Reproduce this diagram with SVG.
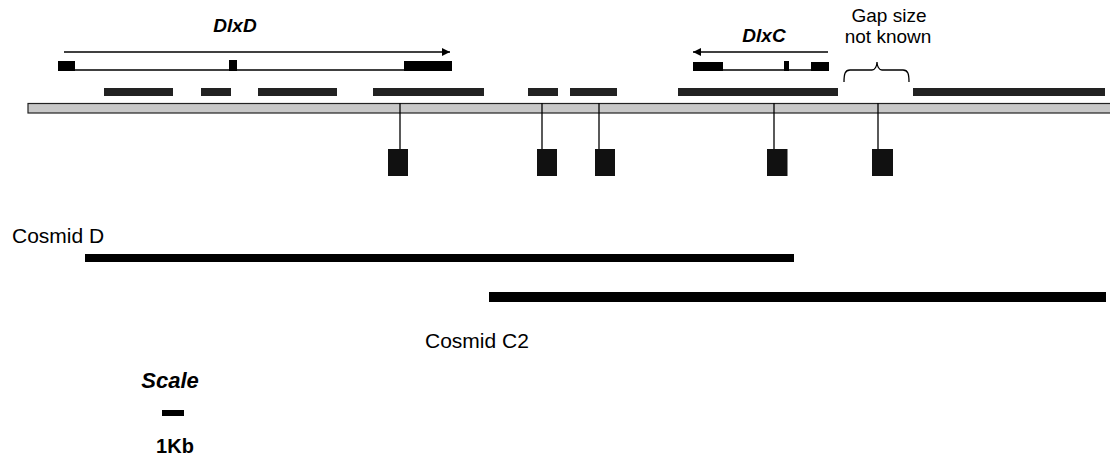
<svg xmlns="http://www.w3.org/2000/svg" width="1110" height="463" viewBox="0 0 1110 463">
  <style>
    .lbl { font-family: "Liberation Sans", Arial, sans-serif; fill: #000; }
    .gene { font-weight: bold; font-style: italic; font-size: 19px; }
    .note { font-size: 19px; }
    .cos { font-size: 21px; }
    .thin { stroke: #000; stroke-width: 1.3; fill: none; }
    .exon { fill: #000; }
    .contig { fill: #222; }
    .probe { fill: #111; }
    .clone { fill: #000; }
  </style>
  <defs>
    <marker id="arrow" viewBox="0 0 10 10" refX="10" refY="5" markerWidth="10" markerHeight="8" markerUnits="userSpaceOnUse" orient="auto-start-reverse">
      <path d="M0,0 L10,5 L0,10 z" fill="#000"/>
    </marker>
  </defs>
  <rect width="1110" height="463" fill="#fff"/>

  <!-- DlxD gene model -->
  <g id="dlxD">
    <text class="lbl gene" x="235" y="32" text-anchor="middle">DlxD</text>
    <line class="thin" x1="64" y1="52" x2="450" y2="52" marker-end="url(#arrow)"/>
    <line class="thin" x1="75" y1="70" x2="404" y2="70"/>
    <rect class="exon" x="58" y="61" width="17" height="10"/>
    <rect class="exon" x="229" y="60" width="8" height="11"/>
    <rect class="exon" x="404" y="61" width="48" height="10"/>
  </g>

  <!-- DlxC gene model -->
  <g id="dlxC">
    <text class="lbl gene" x="764" y="42" text-anchor="middle">DlxC</text>
    <line class="thin" x1="828" y1="52" x2="693" y2="52" marker-end="url(#arrow)"/>
    <line class="thin" x1="723" y1="70" x2="811" y2="70"/>
    <rect class="exon" x="693" y="62" width="30" height="9"/>
    <rect class="exon" x="784" y="61" width="5" height="10"/>
    <rect class="exon" x="811" y="62" width="18" height="9"/>
  </g>

  <!-- gap annotation -->
  <g id="gap">
    <text class="lbl note" x="889" y="22" text-anchor="middle">Gap size</text>
    <text class="lbl note" x="888" y="43" text-anchor="middle">not known</text>
    <path class="thin" d="M844,82 C844,74 845,70 850,70 L872,70 C875,70 877,66 877,62 C877,66 879,70 882,70 L903,70 C908,70 909,74 909,82"/>
  </g>

  <!-- contigs above the map -->
  <g id="contigs">
    <rect class="contig" x="104" y="88" width="69" height="8"/>
    <rect class="contig" x="201" y="88" width="30" height="8"/>
    <rect class="contig" x="258" y="88" width="79" height="8"/>
    <rect class="contig" x="373" y="88" width="111" height="8"/>
    <rect class="contig" x="528" y="88" width="30" height="8"/>
    <rect class="contig" x="570" y="88" width="47" height="8"/>
    <rect class="contig" x="678" y="88" width="160" height="8"/>
    <rect class="contig" x="913" y="88" width="192" height="8"/>
  </g>

  <!-- genomic map bar -->
  <g id="map">
    <rect x="28" y="103.5" width="1090" height="9.5" fill="#c8c8c8" stroke="#222" stroke-width="1.2"/>
  </g>

  <!-- probe ticks -->
  <g id="connectors">
    <line class="thin" x1="400" y1="103" x2="400" y2="149"/>
    <line class="thin" x1="542" y1="103" x2="542" y2="149"/>
    <line class="thin" x1="599" y1="103" x2="599" y2="149"/>
    <line class="thin" x1="774" y1="103" x2="774" y2="149"/>
    <line class="thin" x1="878" y1="103" x2="878" y2="149"/>
  </g>

  <g id="probes">
    <rect id="probe1" class="probe" x="388" y="149" width="20" height="27"/>
    <rect id="probe2" class="probe" x="537" y="149" width="20" height="27"/>
    <rect id="probe3" class="probe" x="595" y="149" width="20" height="27"/>
    <rect id="probe4" class="probe" x="767" y="149" width="20.5" height="27"/>
    <rect id="probe5" class="probe" x="872" y="149" width="21" height="27"/>
  </g>

  <!-- cosmid clones -->
  <g id="cosmidD">
    <text class="lbl cos" x="12" y="243">Cosmid D</text>
    <rect class="clone" x="85" y="254" width="709" height="8"/>
  </g>
  <g id="cosmidC2">
    <rect class="clone" x="489" y="292" width="617" height="10"/>
    <text class="lbl cos" x="425" y="348">Cosmid C2</text>
  </g>

  <!-- scale bar -->
  <g id="scale">
    <text class="lbl" x="170" y="388" text-anchor="middle" font-size="22" font-weight="bold" font-style="italic">Scale</text>
    <rect x="162" y="410" width="22" height="6" fill="#000"/>
    <text class="lbl" x="175" y="453" text-anchor="middle" font-size="20" font-weight="bold">1Kb</text>
  </g>
</svg>
